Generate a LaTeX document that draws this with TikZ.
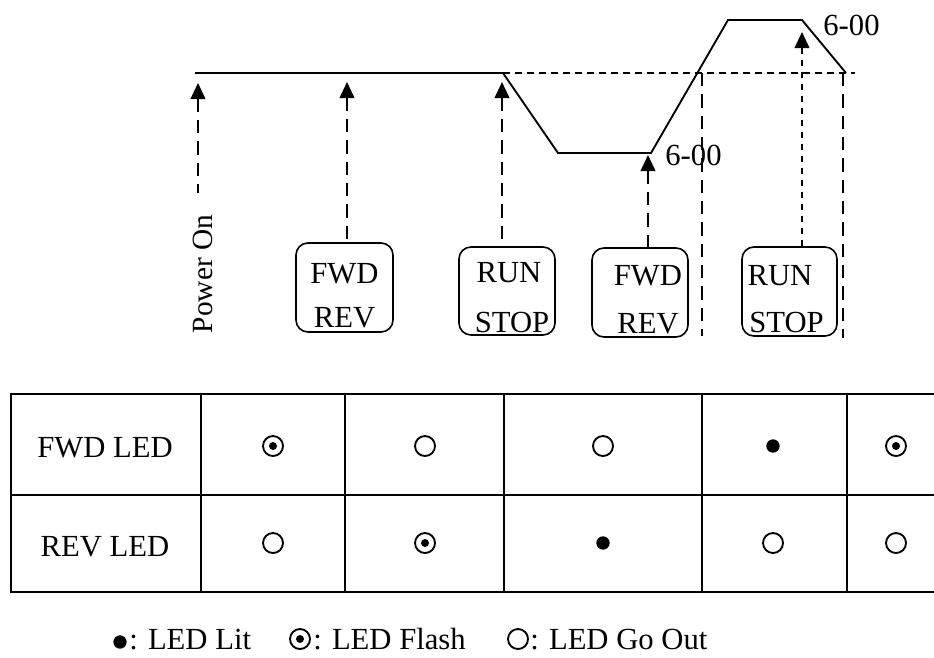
\documentclass[tikz,border=0pt]{standalone}
\usepackage{fontspec}
\setmainfont{Liberation Serif}
\usetikzlibrary{arrows.meta}
\begin{document}
\begin{tikzpicture}[x=0.75pt,y=-0.75pt,
  every node/.style={font=\fontsize{23}{28}\selectfont, inner sep=0pt},
  curve/.style={line width=1.4pt, line join=miter},
  guide/.style={line width=1.3pt, dash pattern=on 5pt off 4pt},
  longdash/.style={line width=1.3pt, dash pattern=on 10pt off 6pt},
  arr/.style={{Triangle[width=11pt,length=12pt]}-, line width=1.3pt},
  keybox/.style={draw, line width=1.2pt, rounded corners=9pt},
  grid/.style={line width=1.6pt},
  ledoff/.style={circle, draw, line width=1.4pt, minimum size=15pt},
  ledflash/.style={ledoff, path picture={\fill (path picture bounding box.center) circle (3pt);}},
  ledon/.style={circle, fill, minimum size=10pt},
]
\useasboundingbox (0,0) rectangle (934,657);

% speed profile
\coordinate (s0) at (195,73);
\coordinate (s1) at (503,73);
\coordinate (s2) at (558,153);
\coordinate (s3) at (651,153);
\coordinate (s4) at (728,20);
\coordinate (s5) at (802,20);
\coordinate (s6) at (846,73);
\coordinate (g1) at (855,73);
\draw[curve] (s0) -- (s1) -- (s2) -- (s3) -- (s4) -- (s5) -- (s6);
\draw[guide] (s1) -- (g1);

% vertical guides
\coordinate (v1t) at (702,73);
\coordinate (v1b) at (702,336);
\coordinate (v2t) at (843,73);
\coordinate (v2b) at (843,338);
\draw[longdash] (v1t) -- (v1b);
\draw[longdash] (v2t) -- (v2b);

% key boxes
\node[keybox, minimum width=72.75pt, minimum height=66.75pt] (b1) at (344.5,287.5) {};
\node[keybox, minimum width=72pt, minimum height=66pt] (b2) at (507,291) {};
\node[keybox, minimum width=72pt, minimum height=66.75pt] (b3) at (640,292.5) {};
\node[keybox, minimum width=71.25pt, minimum height=66.75pt] (b4) at (789.5,291.5) {};

\node[anchor=base] (b1a) at (344.5,283) {FWD};
\node[anchor=base] (b1b) at (344.5,327) {REV};
\node[anchor=base] (b2a) at (509,282) {RUN};
\node[anchor=base] (b2b) at (512,332) {STOP};
\node[anchor=base] (b3a) at (648,285) {FWD};
\node[anchor=base] (b3b) at (648,333) {REV};
\node[anchor=base] (b4a) at (780,285) {RUN};
\node[anchor=base] (b4b) at (786.5,332) {STOP};

% power on
\node[anchor=base, rotate=90, font=\fontsize{22}{26}\selectfont] (pwr) at (212,274) {Power On};

% arrows
\coordinate (p1) at (198,83);
\coordinate (p1e) at (198,193);
\coordinate (p2) at (347,82);
\coordinate (p3) at (502,82);
\coordinate (p4) at (648,155);
\coordinate (p5) at (802,32);
\draw[arr, longdash] (p1) -- (p1e);
\draw[arr, longdash] (p2) -- (p2 |- b1.north);
\draw[arr, longdash] (p3) -- (p3 |- b2.north);
\draw[arr, longdash] (p4) -- (p4 |- b3.north);
\draw[arr, guide] (p5) -- (p5 |- b4.north);

% labels 6-00
\node[anchor=base] (l1) at (693.5,165) {6-00};
\node[anchor=base] (l2) at (851.5,35) {6-00};

% table
\draw[grid] (934,394) -| (11,592) -- (934,592);
\draw[grid] (11,495) -- (934,495);
\foreach \x in {201,345,504,702,847} \draw[grid] (\x,394) -- (\x,592);

\node[anchor=base] (fwdled) at (105,457) {FWD LED};
\node[anchor=base] (revled) at (105,556) {REV LED};

\node[ledflash] (f1) at (273,446) {};
\node[ledoff]   (f2) at (425,446) {};
\node[ledoff]   (f3) at (603,446) {};
\node[ledon]    (f4) at (773,446) {};
\node[ledflash] (f5) at (896,446) {};

\node[ledoff]   (r1) at (273,543) {};
\node[ledflash] (r2) at (425,543) {};
\node[ledon]    (r3) at (603,543) {};
\node[ledoff]   (r4) at (773,543) {};
\node[ledoff]   (r5) at (896,543) {};

% legend
\node[ledon] (k1) at (120,642) {};
\node[anchor=base west] (k1t) at (129,649) {: LED Lit};
\node[ledflash] (k2) at (300,639) {};
\node[anchor=base west] (k2t) at (313,649) {: LED Flash};
\node[ledoff] (k3) at (518,639) {};
\node[anchor=base west] (k3t) at (530,649) {: LED Go Out};
\end{tikzpicture}
\end{document}
